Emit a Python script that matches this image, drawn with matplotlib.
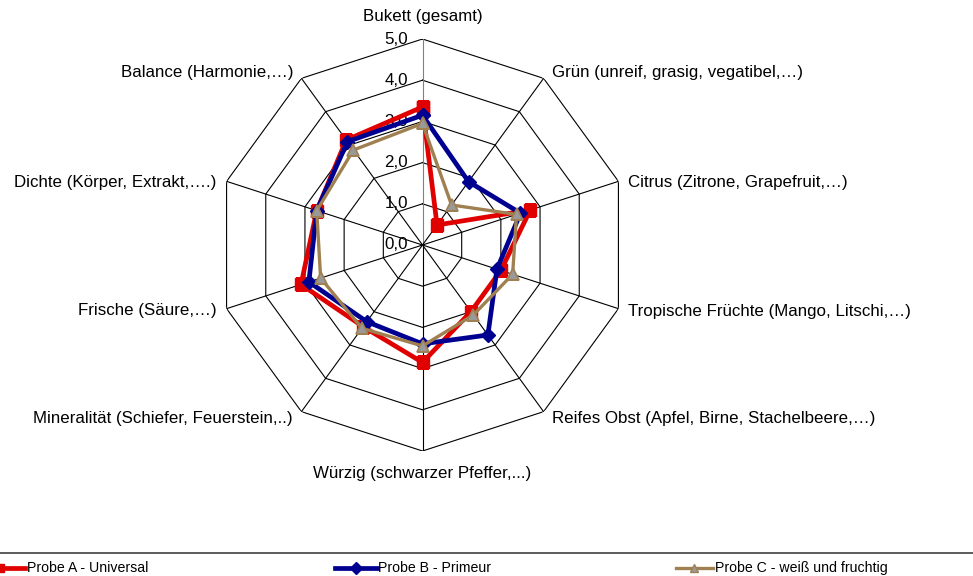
import matplotlib
matplotlib.use("Agg")
import matplotlib.pyplot as plt
import numpy as np

plt.rcParams['font.family'] = ['Liberation Sans', 'DejaVu Sans']

# categories, clockwise from top
kategorien = ["Bukett (gesamt)", "Grün (unreif, grasig, vegatibel,…)", "Citrus (Zitrone, Grapefruit,…)",
              "Tropische Früchte (Mango, Litschi,…)", "Reifes Obst (Apfel, Birne, Stachelbeere,…)",
              "Würzig (schwarzer Pfeffer,...)", "Mineralität (Schiefer, Feuerstein,..)",
              "Frische (Säure,…)", "Dichte (Körper, Extrakt,….)", "Balance (Harmonie,…)"]
probe_a = [3.35, 0.6, 2.75, 2.0, 2.0, 2.85, 2.45, 3.1, 2.7, 3.15]
probe_b = [3.15, 1.9, 2.5, 1.9, 2.7, 2.4, 2.3, 2.9, 2.7, 3.1]
probe_c = [2.95, 1.2, 2.4, 2.3, 2.1, 2.45, 2.5, 2.6, 2.7, 2.85]
namen = ["Probe A - Universal", "Probe B - Primeur", "Probe C - weiß und fruchtig"]
ringe = [0, 1, 2, 3, 4, 5]
ring_labels = ["0,0", "1,0", "2,0", "3,0", "4,0", "5,0"]

n = len(kategorien)
theta = np.arange(n) * 2 * np.pi / n
theta_c = np.append(theta, theta[0])

fig = plt.figure(figsize=(9.73, 5.76), dpi=100)
ax = fig.add_axes([216.5 / 973, (576 - 451) / 576, 412 / 973, 412 / 576], projection='polar')
ax.set_theta_zero_location('N')
ax.set_theta_direction(-1)
ax.set_ylim(0, 5)
ax.grid(False)
ax.spines['polar'].set_visible(False)
ax.set_xticks([])
ax.set_yticks([])
ax.patch.set_alpha(0)

# decagon grid + spokes
for r in ringe[1:]:
    ax.plot(theta_c, [r] * (n + 1), color='black', lw=0.8, zorder=1)
for i, t in enumerate(theta):
    ax.plot([t, t], [0, 5], color='#808080' if i == 0 else 'black', lw=0.8, zorder=1)

# ring labels
for r, lab in zip(ringe, ring_labels):
    ax.annotate(lab, xy=(0, r), xytext=(-10.5, 0), textcoords='offset points',
                ha='right', va='center', fontsize=12.2)

# category labels
offsets = [(0, 16, 'center'), (6, 4, 'left'), (7, -1, 'left'), (7, -2, 'left'), (6, -5, 'left'),
           (0, -16, 'center'), (-6, -5, 'right'), (-7, -1, 'right'), (-7, -1, 'right'), (-6, 4, 'right')]
for t, lab, (dx, dy, ha) in zip(theta, kategorien, offsets):
    ax.annotate(lab, xy=(t, 5), xytext=(dx, dy), textcoords='offset points',
                ha=ha, va='center', fontsize=12.2)

la, = ax.plot(theta_c, probe_a + probe_a[:1], color='#E00000', lw=3.4, marker='s', ms=8.5,
              mfc='#E00000', mec='#E00000', zorder=3)
lb, = ax.plot(theta_c, probe_b + probe_b[:1], color='#000090', lw=3.4, marker='D', ms=7,
              mfc='#000090', mec='#000090', zorder=4)
lc, = ax.plot(theta_c, probe_c + probe_c[:1], color='#A08050', lw=2.4, marker='^', ms=9,
              mfc='#999999', mec='#A08050', mew=1.2, zorder=5)

# legend area
fig.add_artist(plt.Line2D([0, 1], [1 - 553 / 576, 1 - 553 / 576], color='#404040', lw=1.2,
                          transform=fig.transFigure))
y = 1 - 568 / 576
leg = [(-14, 25, 0), (335, 377, 356), (676, 713, 694)]
text_x = [27, 378, 715]
for (x0, x1, xm), tx, line, name in zip(leg, text_x, [la, lb, lc], namen):
    fig.add_artist(plt.Line2D([x0 / 973, x1 / 973], [y, y], color=line.get_color(),
                              lw=3.4 if line is not lc else 2.4, transform=fig.transFigure))
    fig.add_artist(plt.Line2D([xm / 973], [y], marker=line.get_marker(), ms=6,
                              mfc=line.get_markerfacecolor(), mec=line.get_markeredgecolor(),
                              transform=fig.transFigure))
    fig.text(tx / 973, y, name, ha='left', va='center', fontsize=10.2)

fig.savefig('out.png', dpi=100)
